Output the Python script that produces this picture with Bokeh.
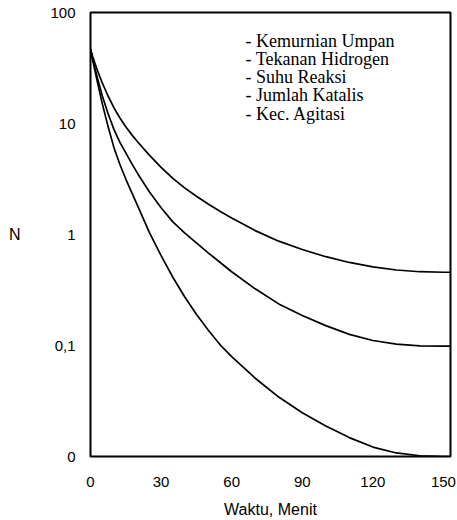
from bokeh.plotting import figure
from bokeh.models import FixedTicker, Label
from bokeh.embed import file_html
from bokeh.resources import INLINE

# Time (minutes)
t = [0, 1, 2, 3, 5, 7.5, 10, 12.5, 15, 17.5, 20, 25, 30, 35, 40, 45, 50, 55, 60,
     70, 80, 90, 100, 110, 120, 130, 140, 150, 153]

# N values (log scale)
n_upper = [46.8, 39.8, 34.3, 29.9, 23.2, 17.6, 13.8, 11.2, 9.33, 7.94, 6.84, 5.19, 4.03,
           3.20, 2.63, 2.21, 1.88, 1.62, 1.41, 1.084, 0.871, 0.733, 0.631, 0.560, 0.511,
           0.479, 0.462, 0.457, 0.457]
n_middle = [46.8, 37.6, 30.9, 25.4, 17.8, 12.2, 8.81, 6.76, 5.43, 4.37, 3.55, 2.43, 1.74,
            1.30, 1.035, 0.841, 0.684, 0.562, 0.462, 0.324, 0.237, 0.186, 0.151, 0.126,
            0.111, 0.103, 0.0993, 0.0986, 0.0986]
n_lower = [46.8, 36.7, 29.2, 23.2, 15.1, 9.33, 6.03, 4.27, 3.16, 2.40, 1.82, 1.047, 0.646,
           0.412, 0.275, 0.191, 0.138, 0.102, 0.0794, 0.0507, 0.0343, 0.0248, 0.0188,
           0.0148, 0.01216, 0.01076, 0.01016, 0.0100, 0.0100]

x_ticks = [0, 30, 60, 90, 120, 150]
y_ticks = [0.01, 0.1, 1, 10, 100]
y_tick_labels = ["0", "0,1", "1", "10", "100"]

x_title = "Waktu, Menit"
y_title = "N"
legend_lines = ["- Kemurnian Umpan", "- Tekanan Hidrogen", "- Suhu Reaksi",
                "- Jumlah Katalis", "- Kec. Agitasi"]

p = figure(width=457, height=520, y_axis_type="log",
           x_range=(0, 153), y_range=(0.01, 100),
           output_backend="svg", toolbar_location=None,
           min_border_left=90, min_border_right=7, min_border_top=12, min_border_bottom=64)

p.xgrid.visible = False
p.ygrid.visible = False
p.outline_line_color = "black"
p.outline_line_width = 2
p.outline_line_alpha = 1.0
p.background_fill_color = "white"
p.border_fill_color = "white"

for series in (n_upper, n_middle, n_lower):
    p.line(t, series, line_color="black", line_width=1.7)

font = "Liberation Sans"

p.xaxis.ticker = FixedTicker(ticks=x_ticks)
p.yaxis.ticker = FixedTicker(ticks=y_ticks)
p.yaxis.major_label_overrides = {v: s for v, s in zip(y_ticks, y_tick_labels)}

for ax in (p.xaxis[0], p.yaxis[0]):
    ax.axis_line_color = None
    ax.major_tick_line_color = None
    ax.minor_tick_line_color = None
    ax.major_tick_out = 0
    ax.major_tick_in = 0
    ax.minor_tick_out = 0
    ax.minor_tick_in = 0
    ax.major_label_text_font = font
    ax.major_label_text_font_size = "15px"
    ax.major_label_text_color = "black"
    ax.axis_label_text_font = font
    ax.axis_label_text_font_size = "16px"
    ax.axis_label_text_font_style = "normal"
    ax.axis_label_text_color = "black"

p.xaxis.axis_label = x_title
p.xaxis.major_label_standoff = 20
p.xaxis.axis_label_standoff = 11

p.yaxis.axis_label = y_title
p.yaxis.axis_label_orientation = "horizontal"
p.yaxis.major_label_standoff = 15
p.yaxis.axis_label_standoff = 27

# legend text block: one label per line, baselines evenly spaced in screen pixels
px_per_decade = 111.0
first_baseline_px = 28.0   # below the top of the plot frame
line_step_px = 18.3
for i, line in enumerate(legend_lines):
    y_val = 10 ** (2 - (first_baseline_px + line_step_px * i) / px_per_decade)
    p.add_layout(Label(x=65.9, y=y_val, text=line,
                       text_font="Liberation Serif", text_font_size="18px",
                       text_color="black", text_baseline="alphabetic", text_align="left"))

open("out.html", "w").write(file_html(p, INLINE))
